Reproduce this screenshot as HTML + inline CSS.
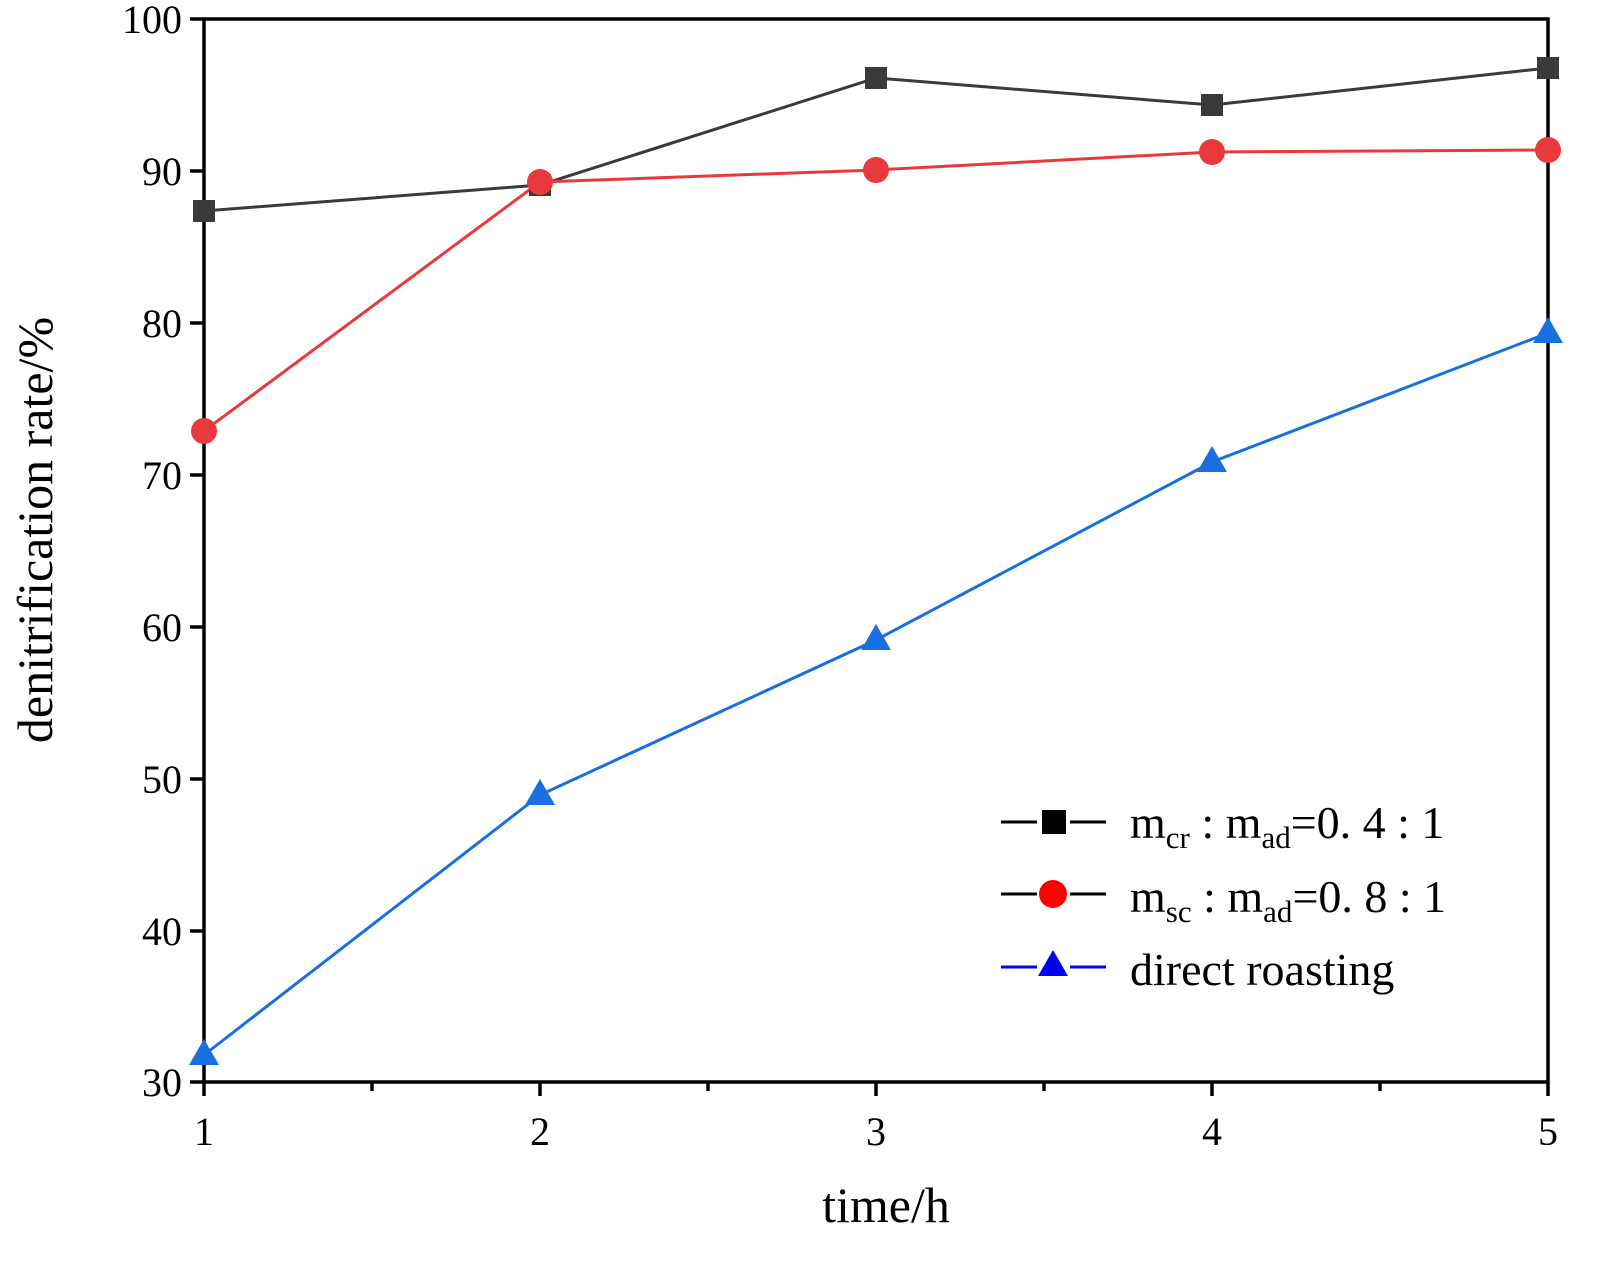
<!DOCTYPE html>
<html><head><meta charset="utf-8"><style>body{margin:0;background:#fff}</style></head><body>
<svg width="1622" height="1275" xmlns="http://www.w3.org/2000/svg" font-family="Liberation Serif, serif">
<rect width="1622" height="1275" fill="#fff"/>
<g stroke="#000" stroke-width="3.5">
<line x1="190" y1="19" x2="204" y2="19"/><line x1="190" y1="171" x2="204" y2="171"/><line x1="190" y1="323" x2="204" y2="323"/><line x1="190" y1="475" x2="204" y2="475"/><line x1="190" y1="627" x2="204" y2="627"/><line x1="190" y1="779" x2="204" y2="779"/><line x1="190" y1="931" x2="204" y2="931"/><line x1="190" y1="1082" x2="204" y2="1082"/>
<line x1="204" y1="1082" x2="204" y2="1096"/><line x1="372" y1="1082" x2="372" y2="1091"/><line x1="540" y1="1082" x2="540" y2="1096"/><line x1="708" y1="1082" x2="708" y2="1091"/><line x1="876" y1="1082" x2="876" y2="1096"/><line x1="1044" y1="1082" x2="1044" y2="1091"/><line x1="1212" y1="1082" x2="1212" y2="1096"/><line x1="1380" y1="1082" x2="1380" y2="1091"/><line x1="1548" y1="1082" x2="1548" y2="1096"/>
</g>
<rect x="204" y="19" width="1344" height="1063" fill="none" stroke="#000" stroke-width="3.5"/>
<g font-size="40" text-anchor="end">
<text x="182" y="33">100</text><text x="182" y="185">90</text><text x="182" y="337">80</text><text x="182" y="489">70</text><text x="182" y="641">60</text><text x="182" y="793">50</text><text x="182" y="945">40</text><text x="182" y="1096">30</text></g>
<g font-size="40" text-anchor="middle">
<text x="204" y="1145">1</text><text x="540" y="1145">2</text><text x="876" y="1145">3</text><text x="1212" y="1145">4</text><text x="1548" y="1145">5</text></g>
<text x="886" y="1222" font-size="50" text-anchor="middle">time/h</text>
<text transform="translate(52,530) rotate(-90)" font-size="50" text-anchor="middle">denitrification rate/%</text>
<polyline points="204,211 540,185 876,78 1212,105 1548,68" fill="none" stroke="#3a3a3a" stroke-width="3"/>
<polyline points="204,431 540,182 876,170 1212,152 1548,150" fill="none" stroke="#e8393c" stroke-width="3"/>
<polyline points="204,1055 540,795 876,640 1212,462 1548,333" fill="none" stroke="#1a6fe0" stroke-width="3"/>
<g fill="#3a3a3a"><rect x="193" y="200" width="22" height="22"/><rect x="529" y="174" width="22" height="22"/><rect x="865" y="67" width="22" height="22"/><rect x="1201" y="94" width="22" height="22"/><rect x="1537" y="57" width="22" height="22"/></g>
<g fill="#e8393c"><circle cx="204" cy="431" r="13"/><circle cx="540" cy="182" r="13"/><circle cx="876" cy="170" r="13"/><circle cx="1212" cy="152" r="13"/><circle cx="1548" cy="150" r="13"/></g>
<g fill="#1a6fe0"><path d="M204,1039 l15,26 h-30z"/><path d="M540,779 l15,26 h-30z"/><path d="M876,624 l15,26 h-30z"/><path d="M1212,446 l15,26 h-30z"/><path d="M1548,317 l15,26 h-30z"/></g>
<g stroke-width="3">
<line x1="1001" y1="822" x2="1037" y2="822" stroke="#000"/><line x1="1070" y1="822" x2="1106" y2="822" stroke="#000"/>
<line x1="1001" y1="894" x2="1037" y2="894" stroke="#000"/><line x1="1070" y1="894" x2="1106" y2="894" stroke="#000"/>
<line x1="1001" y1="967" x2="1037" y2="967" stroke="#0000ff"/><line x1="1070" y1="967" x2="1106" y2="967" stroke="#0000ff"/></g>
<rect x="1042" y="810" width="24" height="24" fill="#000"/>
<circle cx="1053" cy="894" r="14" fill="#f00"/>
<path d="M1053,950 l15,26 h-30z" fill="#00f"/>
<g font-size="46">
<text x="1130" y="838">m<tspan font-size="31" dy="10">cr</tspan><tspan dy="-10"> : m</tspan><tspan font-size="31" dy="10">ad</tspan><tspan dy="-10">=0. 4 : 1</tspan></text>
<text x="1130" y="912">m<tspan font-size="31" dy="10">sc</tspan><tspan dy="-10"> : m</tspan><tspan font-size="31" dy="10">ad</tspan><tspan dy="-10">=0. 8 : 1</tspan></text>
<text x="1130" y="985">direct roasting</text></g>
</svg>
</body></html>
